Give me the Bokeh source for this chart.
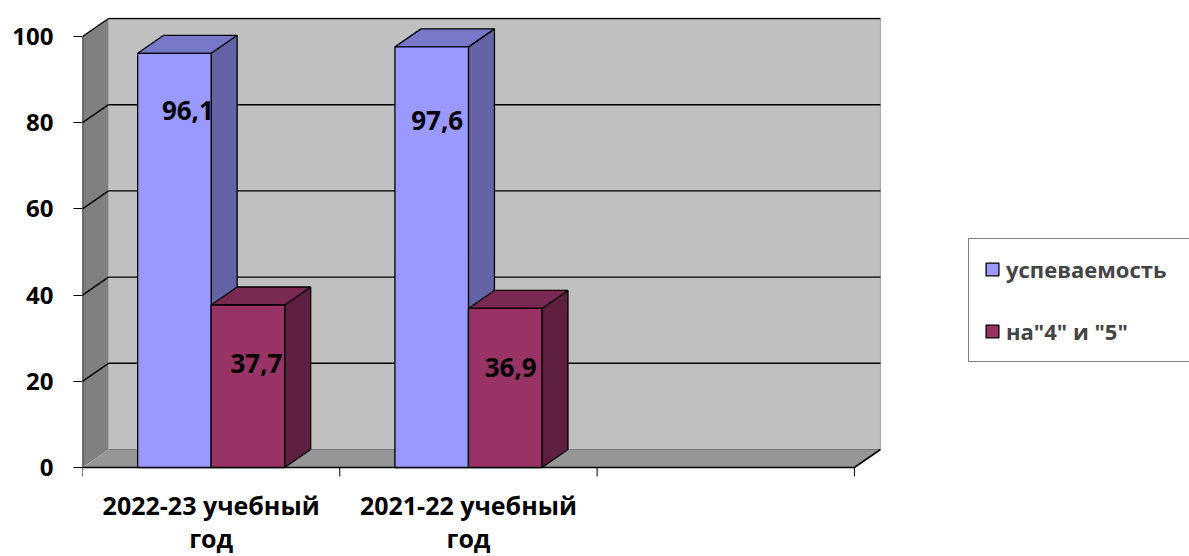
from bokeh.plotting import figure
from bokeh.models import Range1d, FixedTicker
from bokeh.core.properties import value
from bokeh.embed import file_html
from bokeh.resources import INLINE

# ---------------- data ----------------
categories = ["2022-23 учебный год", "2021-22 учебный год", ""]
series_names = ["успеваемость", 'на"4" и "5"']
uspevaemost = [96.1, 97.6]
na_4_5 = [37.7, 36.9]
y_ticks = [0, 20, 40, 60, 80, 100]

# ---------------- style ----------------
FONT = value("Open Sans")
PX_X = 257.3          # pixels per category slot
PX_Y = 4.31           # pixels per value unit
D = 26 / PX_X         # depth offset (x, data units)
DY = 18 / PX_Y        # depth offset (y, data units)
BAR_W = 1 / 3.5
GAP = 0.75 * BAR_W
front_colors = ["#9999FF", "#993366"]
top_colors = ["#7878C8", "#7A2952"]
side_colors = ["#6363A6", "#5F1F40"]
# label offsets in px (right of front-face centre, below bar top)
label_dx_px = [[13.5, 5.5], [8.5, 5.5]]
label_dy_px = [[57, 74], [58.5, 59]]

W, H = 1189, 556
LEFT, TOP, ZERO = 82, 17, 467
FRAME_W = W - LEFT
FRAME_TOP_PX = ZERO - TOP     # px above the zero line
FRAME_BOT_PX = H - ZERO       # px below the zero line

n = len(categories)
ymax = y_ticks[-1]

p = figure(width=W, height=H, output_backend="svg", toolbar_location=None,
           x_range=Range1d(0, FRAME_W / PX_X),
           y_range=Range1d(-FRAME_BOT_PX / PX_Y, FRAME_TOP_PX / PX_Y),
           x_axis_location=None, min_border_left=LEFT, min_border_right=0,
           min_border_top=TOP, min_border_bottom=0)
p.grid.visible = False
p.outline_line_color = None
p.background_fill_color = "white"
p.border_fill_color = "white"

# ---- walls & floor ----
p.patch([D, D, n + D, n + D], [DY, ymax + DY, ymax + DY, DY],
        fill_color="#C0C0C0", line_color=None)
p.patch([0, 0, D, D], [0, ymax, ymax + DY, DY], fill_color="#808080", line_color=None)
p.patch([0, n, n + D, D], [0, 0, DY, DY], fill_color="#969696", line_color=None)

p.line([D, n + D], [DY, DY], line_color="#7A7A7A", line_width=1)
p.line([n + D, n + D], [DY, ymax + DY], line_color="#A0A0A0", line_width=1)
grid_vals = y_ticks[1:]
p.multi_line([[D, n + D] for v in grid_vals], [[v + DY, v + DY] for v in grid_vals],
             line_color="black", line_width=1.4)
p.multi_line([[0, D] for v in grid_vals], [[v, v + DY] for v in grid_vals],
             line_color="black", line_width=1.4)
p.line([0, 0], [0, ymax], line_color="black", line_width=1.4)
p.line([0, n, n + D], [0, 0, DY], line_color="black", line_width=1.6)

# x ticks at category boundaries
bx = list(range(n + 1))
p.segment(x0=bx, y0=[0] * len(bx), x1=bx, y1=[-9 / PX_Y] * len(bx),
          line_color="black", line_width=1)

# ---- bars ----
series = [uspevaemost, na_4_5]
for j, vals in enumerate(series):
    x0s = [i + GAP + j * BAR_W for i in range(len(vals))]
    x1s = [x + BAR_W for x in x0s]
    p.patches([[x1, x1, x1 + D, x1 + D] for x1 in x1s],
              [[0, v, v + DY, DY] for v in vals],
              fill_color=side_colors[j], line_color="black", line_width=1.3)
    p.patches([[x0, x1, x1 + D, x0 + D] for x0, x1 in zip(x0s, x1s)],
              [[v, v, v + DY, v + DY] for v in vals],
              fill_color=top_colors[j], line_color="black", line_width=1.3)
    p.quad(left=x0s, right=x1s, bottom=[0] * len(vals), top=vals,
           fill_color=front_colors[j], line_color="black", line_width=1.3,
           legend_label=series_names[j])

for j, vals in enumerate(series):
    xs = [i + GAP + j * BAR_W + BAR_W / 2 + label_dx_px[j][i] / PX_X for i in range(len(vals))]
    ys = [v - label_dy_px[j][i] / PX_Y for i, v in enumerate(vals)]
    p.text(x=xs, y=ys, text=[f"{v:.1f}".replace(".", ",") for v in vals],
           text_align="center", text_baseline="middle", text_font=FONT,
           text_font_style="bold", text_font_size="26px", text_color="black")

# ---- category labels (two lines each) ----
named = [(i, c) for i, c in enumerate(categories) if c]
line1 = [c.rsplit(" ", 1)[0] for _, c in named]
line2 = [c.rsplit(" ", 1)[1] for _, c in named]
cx = [i + 0.5 for i, _ in named]
p.text(x=cx, y=[-(504 - ZERO) / PX_Y] * len(cx), text=line1, text_align="center",
       text_baseline="middle", text_font=FONT, text_font_style="bold",
       text_font_size="25px", text_color="black")
p.text(x=cx, y=[-(537 - ZERO) / PX_Y] * len(cx), text=line2, text_align="center",
       text_baseline="middle", text_font=FONT, text_font_style="bold",
       text_font_size="25px", text_color="black")

# ---- y axis ----
ax = p.yaxis[0]
ax.ticker = FixedTicker(ticks=y_ticks)
ax.axis_line_color = None
ax.major_tick_out = 9
ax.major_tick_in = 0
ax.minor_tick_out = 0
ax.minor_tick_in = 0
ax.major_tick_line_color = "black"
ax.major_label_standoff = 20
ax.major_label_text_font = "Open Sans"
ax.major_label_text_font_style = "bold"
ax.major_label_text_font_size = "24px"
ax.major_label_text_color = "black"

# ---- legend ----
lg = p.legend[0]
lg.location = (886, H - 362)
lg.label_text_font = "Open Sans"
lg.label_text_font_style = "bold"
lg.label_text_font_size = "22px"
lg.glyph_width = 16
lg.glyph_height = 16
lg.label_height = 30
lg.label_width = 200
lg.spacing = 32
lg.padding = 15
lg.label_standoff = 6
lg.border_line_color = "black"
lg.border_line_width = 1
lg.background_fill_color = "white"
lg.background_fill_alpha = 1

open("out.html", "w").write(file_html(p, INLINE))
